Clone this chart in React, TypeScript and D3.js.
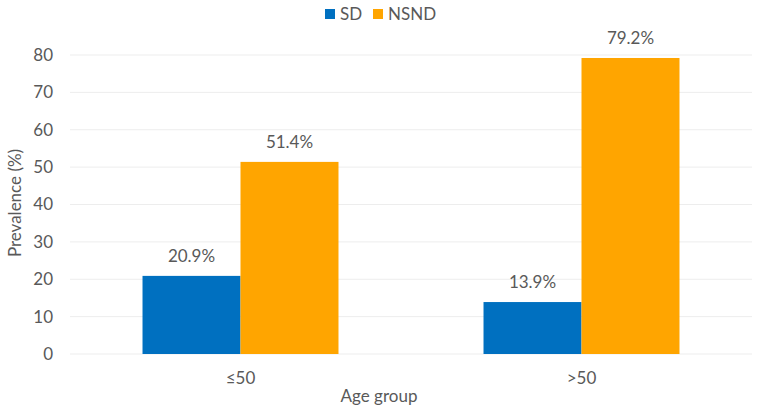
import * as d3 from 'd3';
import React from 'react';

const categories = ['≤50', '>50'];
const seriesNames = ['SD', 'NSND'];
const sdValues = [20.9, 13.9];
const nsndValues = [51.4, 79.2];
const yTicks = [0, 10, 20, 30, 40, 50, 60, 70, 80];
const colors = ['#0070C0', '#FFA500'];

const width = 768;
const height = 409;
const font = 'Lato, Carlito, "Noto Sans", sans-serif';
const textColor = '#595959';

export default function App() {
  const left = 70;
  const right = 752;
  const top = 55;
  const bottom = 354;

  const x = d3.scaleBand().domain(categories).range([left, right]).paddingInner(0).paddingOuter(0);
  const inner = d3.scaleBand().domain(seriesNames).range([0, x.bandwidth()]).paddingInner(0).paddingOuter(0.74);
  const y = d3.scaleLinear().domain([0, 80]).range([bottom, top]);

  const series = [sdValues, nsndValues];

  return (
    <svg width={width} height={height} style={{ position: 'absolute', left: 0, top: 0, background: '#fff' }} fontFamily={font}>
      {yTicks.map(t => (
        <g key={t}>
          <line x1={left} x2={right} y1={y(t)} y2={y(t)} stroke="#EDEDED" strokeWidth={1} />
          <text x={53} y={y(t)} dy="0.35em" textAnchor="end" fontSize={17} fill={textColor}>{t}</text>
        </g>
      ))}
      {categories.map((c, ci) => (
        <g key={c}>
          {seriesNames.map((s, si) => {
            const v = series[si][ci];
            const bx = (x(c) ?? 0) + (inner(s) ?? 0);
            return (
              <g key={s}>
                <rect x={bx} y={y(v)} width={inner.bandwidth()} height={y(0) - y(v)} fill={colors[si]} />
                <text x={bx + inner.bandwidth() / 2} y={y(v) - 14} textAnchor="middle" fontSize={17} fill={textColor}>
                  {v.toFixed(1)}%
                </text>
              </g>
            );
          })}
          <text x={(x(c) ?? 0) + x.bandwidth() / 2} y={384} textAnchor="middle" fontSize={17} fill={textColor}>{c}</text>
        </g>
      ))}
      <text x={379} y={402} textAnchor="middle" fontSize={17} fill={textColor}>Age group</text>
      <text transform={`translate(21,203) rotate(-90)`} textAnchor="middle" fontSize={17} fill={textColor}>Prevalence (%)</text>
      {seriesNames.map((s, i) => {
        const lx = i === 0 ? 325 : 373;
        return (
          <g key={s}>
            <rect x={lx} y={9} width={10} height={10} fill={colors[i]} />
            <text x={lx + 15} y={14} dy="0.35em" fontSize={17} fill={textColor}>{s}</text>
          </g>
        );
      })}
    </svg>
  );
}
